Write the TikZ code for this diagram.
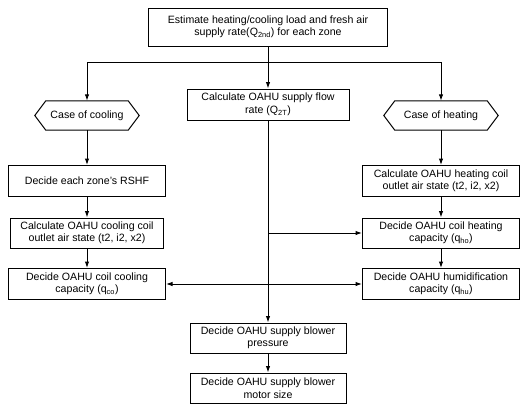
\documentclass[tikz,border=0pt]{standalone}
\usepackage{fontspec}
\setmainfont{Liberation Sans}
\usetikzlibrary{arrows.meta}
\tikzset{
  box/.style={draw, line width=1pt, align=center, inner sep=1pt, minimum height=30pt},
  case/.style={inner sep=1pt, minimum height=29pt},
  arr/.style={line width=1pt, -{Latex[length=6.5pt,width=4.5pt]}},
  ln/.style={line width=1pt}
}
\begin{document}
\begin{tikzpicture}[x=1pt,y=-1pt,font=\fontsize{10.6}{12.5}\selectfont]
\useasboundingbox (0,0) rectangle (524,407);
% top
\node[box,minimum width=239pt,minimum height=38pt] (load) at (268,27)
  {Estimate heating/cooling load and fresh air\\supply rate(Q\textsubscript{2nd}) for each zone};
\coordinate (split) at (268,62);
\node[box,minimum width=162pt,minimum height=31pt] (flow) at (268,104.5)
  {Calculate OAHU supply flow\\rate (Q\textsubscript{2T})};
\node[case,minimum width=82pt] (cool) at (87,115.5) {Case of cooling};
\node[case,minimum width=92pt] (heat) at (441,115.5) {Case of heating};
\foreach \c in {cool,heat}
  \draw[ln,line join=miter] (\c.north west) -- (\c.north east) -- ([xshift=11pt]\c.east)
    -- (\c.south east) -- (\c.south west) -- ([xshift=-11pt]\c.west) -- cycle;
% cooling side
\node[box,minimum width=157pt,minimum height=31pt] (rshf) at (87,181) {Decide each zone's RSHF};
\node[box,minimum width=153pt] (ccoil) at (87,233) {Calculate OAHU cooling coil\\outlet air state (t2, i2, x2)};
\node[box,minimum width=157pt,minimum height=31pt] (ccap) at (87,284) {Decide OAHU coil cooling\\capacity (q\textsubscript{co})};
% heating side
\node[box,minimum width=157pt,minimum height=31pt] (hcoil) at (441,181) {Calculate OAHU heating coil\\outlet air state (t2, i2, x2)};
\node[box,minimum width=157pt] (hcap) at (441,233) {Decide OAHU coil heating\\capacity (q\textsubscript{ho})};
\node[box,minimum width=157pt,minimum height=31pt] (humid) at (441,284) {Decide OAHU humidification\\capacity (q\textsubscript{hu})};
% blower
\node[box,minimum width=156pt] (pres) at (268,338) {Decide OAHU supply blower\\pressure};
\node[box,minimum width=156pt] (motor) at (268,388) {Decide OAHU supply blower\\motor size};
\coordinate (jh) at (flow.south |- hcap.west);
\coordinate (jc) at (flow.south |- humid.west);

\draw[ln] (load) -- (split);
\draw[arr] (split) -- (flow);
\draw[arr] (split) -| (cool);
\draw[arr] (split) -| (heat);
\draw[arr] (cool) -- (rshf);
\draw[arr] (rshf) -- (ccoil);
\draw[arr] (ccoil) -- (ccap);
\draw[arr] (heat) -- (hcoil);
\draw[arr] (hcoil) -- (hcap);
\draw[arr] (hcap) -- (humid);
\draw[arr] (flow) -- (pres);
\draw[arr] (pres) -- (motor);
\draw[arr] (jh) -- (hcap);
\draw[arr] (jc) -- (humid);
\draw[arr] (jc) -- (ccap);
\end{tikzpicture}
\end{document}
